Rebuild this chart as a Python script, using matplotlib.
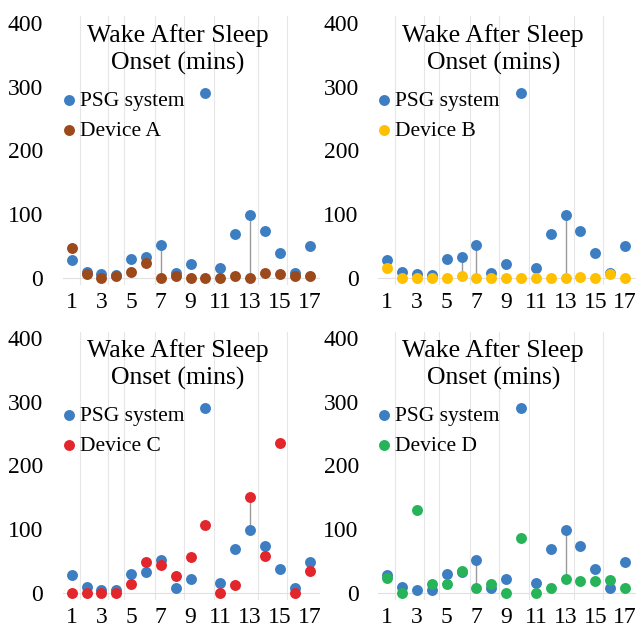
import matplotlib
matplotlib.use("Agg")
import matplotlib.pyplot as plt

plt.rcParams["font.family"] = ["Liberation Serif", "DejaVu Serif"]

nights = list(range(1, 18))
psg = [28, 9, 5, 4, 29, 32, 52, 7, 21, 290, 15, 69, 98, 74, 38, 7, 49]

device_names = ["Device A", "Device B", "Device C", "Device D"]
device_colors = ["#9C4A1C", "#FFC000", "#E3262B", "#27B35A"]
device_a = [46, 5, 0, 3, 9, 23, 0, 3, 0, 0, 0, 3, 0, 8, 5, 3, 3]
device_b = [15, 0, 0, 0, 0, 3, 0, 0, 0, 0, 0, 0, 0, 1, 0, 6, 0]
device_c = [0, 0, 0, 0, 13, 48, 43, 26, 56, 106, 0, 12, 151, 58, 235, 0, 34]
device_d = [23, 0, 130, 14, 14, 34, 8, 13, 0, 86, 0, 8, 22, 19, 19, 20, 7]
devices = [device_a, device_b, device_c, device_d]

# nights where a grey drop line joins the two series
drop_lines = [[7, 13], [6, 7, 13], [13], [7, 13]]

x_ticks = list(range(1, 18, 2))
y_ticks = [0, 100, 200, 300, 400]
grid_x = [1.55, 3.45, 4.5, 6.6, 8.55, 10.55, 13.55, 15.5]

psg_color = "#3D7EC2"

fig = plt.figure(figsize=(6.4, 6.34), dpi=100)
positions = [
    [0.098, 0.550, 0.402, 0.424],
    [0.591, 0.550, 0.402, 0.424],
    [0.098, 0.053, 0.402, 0.424],
    [0.591, 0.053, 0.402, 0.424],
]

for i, (name, color, vals) in enumerate(zip(device_names, device_colors, devices)):
    ax = fig.add_axes(positions[i])
    for gx in grid_x:
        ax.axvline(gx, color="#E6E6E6", lw=0.8, zorder=0)
    ax.axhline(0, color="#E0E0E0", lw=0.8, zorder=0)

    for n in drop_lines[i]:
        ax.vlines(n, vals[n - 1], psg[n - 1], color="#9A9A9A", lw=1.0, zorder=1)

    h1 = ax.scatter(nights, psg, s=62, color=psg_color, zorder=2, linewidths=0)
    h2 = ax.scatter(nights, vals, s=62, color=color, zorder=3, linewidths=0)

    ax.set_xlim(0.4, 17.7)
    ax.set_ylim(-12, 410)
    ax.set_xticks(x_ticks)
    ax.set_yticks(y_ticks)
    ax.tick_params(length=0, labelsize=17)
    ax.tick_params(axis="y", pad=14)
    ax.tick_params(axis="x", pad=5)
    for s in ax.spines.values():
        s.set_visible(False)

    ax.text(0.447, 0.878, "Wake After Sleep\nOnset (mins)", transform=ax.transAxes,
            ha="center", va="center", fontsize=18.5, linespacing=1.3)
    ax.legend([h1, h2], ["PSG system", name], loc="upper left",
              bbox_to_anchor=(-0.06, 0.755), frameon=False, fontsize=15.5,
              handletextpad=-0.1, labelspacing=0.45, borderaxespad=0,
              handlelength=1.2, scatterpoints=1)

fig.savefig("out.png", dpi=100)
